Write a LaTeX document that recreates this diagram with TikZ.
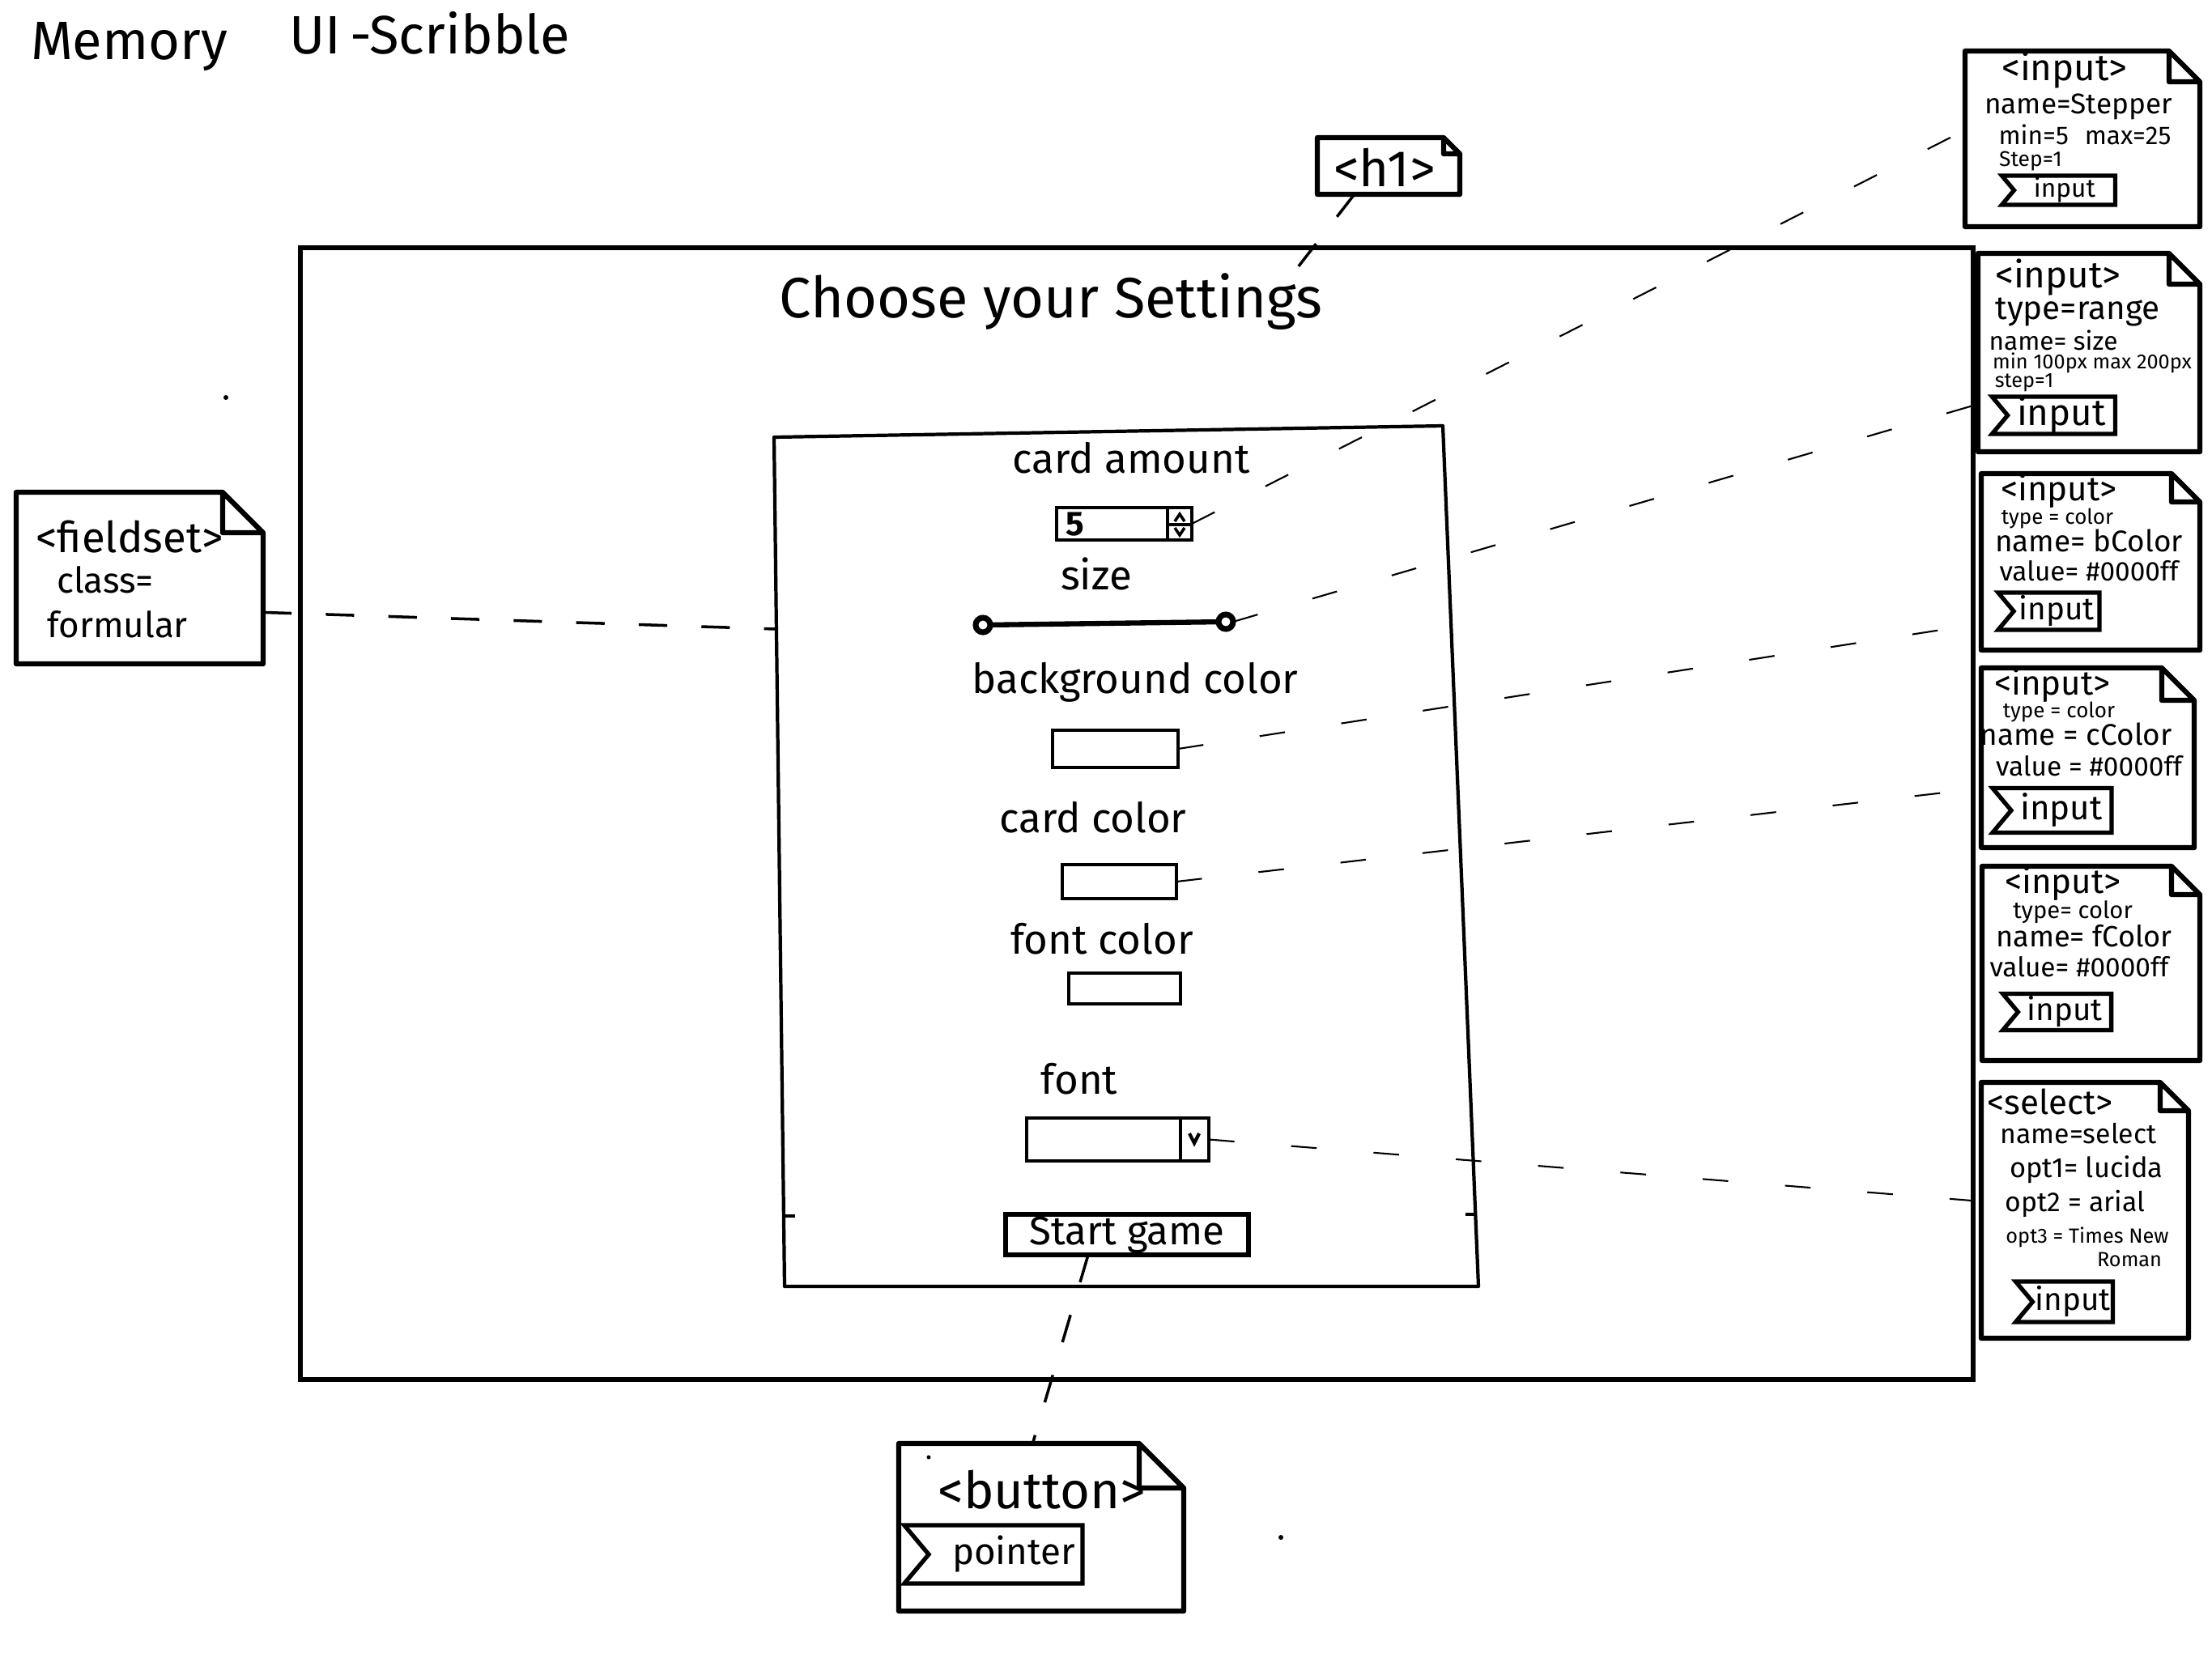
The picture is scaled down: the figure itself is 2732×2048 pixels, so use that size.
\documentclass[tikz,border=0pt]{standalone}
\usepackage{fontspec}
\setmainfont{Fira Sans}
\usetikzlibrary{shapes.symbols,calc,fit}
\newcommand\fsz[1]{\fontsize{#1}{#1}\selectfont}
\newcommand\dognote[2]{\draw[noteline] (#1.north west) -- ([xshift=-#2]#1.north east) -- ([yshift=-#2]#1.north east) -- (#1.south east) -- (#1.south west) -- cycle ([xshift=-#2]#1.north east) |- ([yshift=-#2]#1.north east);}
\begin{document}
\begin{tikzpicture}[x=0.01cm,y=-0.01cm,
  every node/.style={inner sep=0pt,outer sep=0pt},
  noteline/.style={line width=1.8pt,line join=round,line cap=round},
  frameline/.style={draw,line width=1.5pt},
  ctl/.style={draw,line width=1.3pt,rectangle},
  lbl/.style={font={\fsz{14.5}}},
  tagbox/.style={draw,line width=1.5pt,shape=signal,signal from=west,signal to=nowhere,signal pointer angle=100},
  dashl/.style={line width=1pt,dash pattern=on 10pt off 12pt},
  dashr/.style={line width=0.6pt,dash pattern=on 9pt off 20pt}]
\fill[white] (0,0) rectangle (2732,2048);
\useasboundingbox (0,0) rectangle (2732,2048);

% heading
\node[anchor=base west,font={\fsz{19}}] (memo) at (38,73) {Memory};
\node[anchor=base west,font={\fsz{19}}] (scrib) at (357,66) {UI\,-Scribble};

% page frame
\node[frameline,fit={(371,306) (2437,1704)}] (page) {};
\node[font={\fsz{20}},anchor=base] (title) at (1298,392) {Choose your Settings};

% form box
\coordinate (fA) at (956,540);
\coordinate (fB) at (1782,526);
\coordinate (fC) at (1826,1589);
\coordinate (fD) at (969,1589);
\draw[line width=1.2pt,line join=round] (fA) -- (fB) -- (fC) -- (fD) -- cycle;
\draw[line width=1pt] (969,1502) -- (982,1502) (1810,1500) -- (1823,1500);

% controls
\node[lbl] (lamount) at (1397,566) {card amount};
\node[ctl,fit={(1305,627) (1472,667)}] (stepper) {};
\node[font={\fsz{12}\bfseries}] (five) at (1328,648) {5};
\draw[line width=1.2pt] (1442,627) -- (1442,667) (1442,648) -- (1472,648);
\draw[line width=1pt] (1451,644) -- (1457,635) -- (1463,644) (1451,652) -- (1457,661) -- (1463,652);

\node[lbl] (lsize) at (1354,709) {size};
\node[draw,circle,line width=2pt,minimum size=0.18cm] (sl1) at (1214,772) {};
\node[draw,circle,line width=2pt,minimum size=0.18cm] (sl2) at (1514,768) {};
\draw[line width=1.8pt] (sl1) -- (sl2);

\node[lbl] (lbg) at (1402,843) {background color};
\node[ctl,fit={(1300,902) (1455,948)}] (bgbox) {};
\node[lbl] (lcard) at (1350,1010) {card color};
\node[ctl,fit={(1312,1068) (1453,1110)}] (cardbox) {};
\node[lbl] (lfc) at (1361,1160) {font color};
\node[ctl,fit={(1320,1202) (1458,1240)}] (fcbox) {};
\node[lbl] (lfont) at (1333,1333) {font};
\node[ctl,fit={(1268,1381) (1493,1434)}] (selbox) {};
\draw[line width=1.2pt] (1458,1381) -- (1458,1434);
\draw[line width=1.2pt] (1469,1400) -- (1475,1412) -- (1481,1400);
\node[ctl,line width=1.7pt,minimum width=3cm,minimum height=0.5cm,font={\fsz{14}}] (start) at (1392,1525) {Start game\hspace{0.25cm}};

% h1 note
\node[fit={(1627,170) (1803,240)}] (h1) {};
\dognote{h1}{0.2cm}
\node[font={\fsz{18}}] (h1t) at (1710,207) {<h1>};

% fieldset note
\node[fit={(20,608) (325,820)}] (fs) {};
\dognote{fs}{0.5cm}
\node[font={\fsz{15}}] (fs1) at (160,663) {<fieldset>};
\node[font={\fsz{12.5}}] (fs2) at (130,716) {class=};
\node[font={\fsz{12.5}}] (fs3) at (145,771) {formular};

% button note
\node[fit={(1110,1783) (1462,1990)}] (bn) {};
\dognote{bn}{0.55cm}
\node[font={\fsz{18}}] (bn1) at (1287,1840) {<button>};
\node[tagbox,minimum width=2.2cm,minimum height=0.72cm,font={\fsz{13}}] (ptag) at (1242,1920) {\hspace{0.2cm}pointer};

% right notes
\node[fit={(2427,63) (2717,280)}] (n1) {};
\dognote{n1}{0.38cm}
\node[font={\fsz{13}}] (n1a) at (2550,87) {<input>};
\node[font={\fsz{10}}] (n1b) at (2567,132) {name=Stepper};
\node[font={\fsz{9}}] (n1c) at (2575,166) {min=5\hspace{0.2cm}max=25};
\node[font={\fsz{7.5}}] (n1d) at (2508,199) {Step=1};
\node[tagbox,minimum width=1.4cm,minimum height=0.36cm,font={\fsz{9}}] (t1) at (2550,235) {input};

\node[fit={(2443,313) (2717,558)}] (n2) {};
\dognote{n2}{0.38cm}
\node[font={\fsz{13}}] (n2a) at (2542,343) {<input>};
\node[font={\fsz{11.5}}] (n2b) at (2566,386) {type=range};
\node[font={\fsz{9}}] (n2c) at (2536,420) {name= size};
\node[font={\fsz{7.2}}] (n2d) at (2584,448) {min 100px max 200px};
\node[font={\fsz{7.2}}] (n2e) at (2500,473) {step=1};
\node[tagbox,minimum width=1.52cm,minimum height=0.46cm,font={\fsz{13}}] (t2) at (2546,513) {input};

\node[fit={(2447,585) (2717,803)}] (n3) {};
\dognote{n3}{0.35cm}
\node[font={\fsz{12}}] (n3a) at (2543,607) {<input>};
\node[font={\fsz{7.4}}] (n3b) at (2541,641) {type = color};
\node[font={\fsz{10.5}}] (n3c) at (2580,668) {name= bColor};
\node[font={\fsz{9.5}}] (n3d) at (2580,705) {value= \#0000ff};
\node[tagbox,minimum width=1.25cm,minimum height=0.46cm,font={\fsz{11}}] (t3) at (2540,755) {input};

\node[fit={(2447,825) (2710,1047)}] (n4) {};
\dognote{n4}{0.4cm}
\node[font={\fsz{12}}] (n4a) at (2535,847) {<input>};
\node[font={\fsz{7.4}}] (n4b) at (2543,880) {type = color};
\node[font={\fsz{10.5}}] (n4c) at (2564,907) {name = cColor};
\node[font={\fsz{9.5}}] (n4d) at (2580,946) {value = \#0000ff};
\node[tagbox,minimum width=1.47cm,minimum height=0.55cm,font={\fsz{12}}] (t4) at (2546,1001) {input};

\node[fit={(2448,1070) (2717,1310)}] (n5) {};
\dognote{n5}{0.35cm}
\node[font={\fsz{12}}] (n5a) at (2548,1092) {<input>};
\node[font={\fsz{8.3}}] (n5b) at (2560,1127) {type= color};
\node[font={\fsz{10.3}}] (n5c) at (2574,1156) {name= fColor};
\node[font={\fsz{9.5}}] (n5d) at (2568,1194) {value= \#0000ff};
\node[tagbox,minimum width=1.34cm,minimum height=0.45cm,font={\fsz{11}}] (t5) at (2550,1250) {input};

\node[fit={(2447,1337) (2703,1653)}] (n6) {};
\dognote{n6}{0.35cm}
\node[font={\fsz{12}}] (n6a) at (2532,1361) {<select>};
\node[font={\fsz{9.6}}] (n6b) at (2567,1400) {name=select};
\node[font={\fsz{9.8}}] (n6c) at (2577,1445) {opt1= lucida};
\node[font={\fsz{9.6}}] (n6d) at (2563,1487) {opt2 = arial};
\node[font={\fsz{7.2}}] (n6e) at (2578,1528) {opt3 = Times New};
\node[font={\fsz{7.2}}] (n6f) at (2630,1556) {Roman};
\node[tagbox,minimum width=1.2cm,minimum height=0.5cm,font={\fsz{11}}] (t6) at (2560,1608) {input};

% connectors
\coordinate (fsIn) at (958,777);
\draw[dashl] ($(fs.north east)!0.7!(fs.south east)$) -- (fsIn);
\draw[dashl] ($(h1.south west)!0.26!(h1.south east)$) -- ([xshift=-0.3cm,yshift=0.08cm]title.north east);
\draw[dashl] ($(start.south west)!0.34!(start.south east)$) -- ($(bn.north west)!0.47!(bn.north east)$);
\draw[dashr] (stepper.east) -- ($(n1.north west)!0.45!(n1.south west)$);
\draw[dashr] (sl2.east) -- ($(n2.north west)!0.76!(n2.south west)$);
\draw[dashr] (bgbox.east) -- ($(n3.north west)!0.85!(n3.south west)$);
\draw[dashr] (cardbox.east) -- ($(n4.north west)!0.67!(n4.south west)$);
\draw[dashr] (selbox.east) -- ($(n6.north west)!0.465!(n6.south west)$);

% stray dots
\fill (279,491) circle (3);
\fill (1582,1899) circle (3);
\fill (1147,1800) circle (2.5);
\end{tikzpicture}
\end{document}
